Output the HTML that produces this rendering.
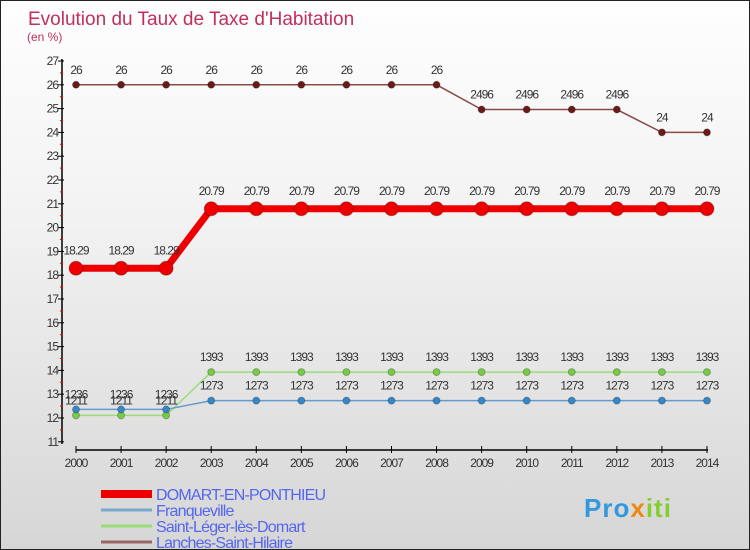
<!DOCTYPE html>
<html><head><meta charset="utf-8"><style>
body{margin:0}
#c{width:750px;height:550px;position:relative;overflow:hidden;box-sizing:border-box;border:1px solid #222;background:linear-gradient(#fefefe,#f2f2f2 40%,#d6d6d6);font-family:"Liberation Sans",sans-serif}
</style></head><body>
<div id="c">
<svg id="s" width="750" height="550" style="position:absolute;left:0;top:0"></svg>
</div>
<script>
const years=[2000,2001,2002,2003,2004,2005,2006,2007,2008,2009,2010,2011,2012,2013,2014];
const domart=[18.29,18.29,18.29,20.79,20.79,20.79,20.79,20.79,20.79,20.79,20.79,20.79,20.79,20.79,20.79];
const franq=[12.36,12.36,12.36,12.73,12.73,12.73,12.73,12.73,12.73,12.73,12.73,12.73,12.73,12.73,12.73];
const stleger=[12.11,12.11,12.11,13.93,13.93,13.93,13.93,13.93,13.93,13.93,13.93,13.93,13.93,13.93,13.93];
const lanches=[26,26,26,26,26,26,26,26,26,24.96,24.96,24.96,24.96,24,24];
const yTicks=[11,12,13,14,15,16,17,18,19,20,21,22,23,24,25,26,27];
const seriesNames=["DOMART-EN-PONTHIEU","Franqueville","Saint-Léger-lès-Domart","Lanches-Saint-Hilaire"];
const svg=document.getElementById('s');const NS='http://www.w3.org/2000/svg';
const X=i=>75+i*45.07, Y=v=>60+(27-v)*23.8;
function el(t,a,txt){const e=document.createElementNS(NS,t);for(const k in a)e.setAttribute(k,a[k]);if(txt!==undefined)e.textContent=txt;svg.appendChild(e);return e;}
let e;
e=el('text',{x:27,y:24,'font-size':19,fill:'#c0305a'},"Evolution du Taux de Taxe d'Habitation");

e=el('text',{x:26,y:40,'font-size':12,fill:'#c0305a'},"(en %)");

e=el('line',{x1:61,y1:58,x2:61,y2:443,stroke:'#000','stroke-width':1.5});

e=el('line',{x1:75,y1:449,x2:707,y2:449,stroke:'#000','stroke-width':1.5});

yTicks.forEach((v,i)=>{
 el('line',{x1:57,y1:Y(v),x2:63,y2:Y(v),stroke:'#000'});
 if(i<yTicks.length-1)el('line',{x1:59,y1:Y(v+0.5),x2:62,y2:Y(v+0.5),stroke:'#e00'});
 e=el('text',{x:57,y:Y(v)+4,'font-size':12,fill:'#333','text-anchor':'end','letter-spacing':'-1'},v);
 
});
years.forEach((y,i)=>{
 el('line',{x1:X(i),y1:445,x2:X(i),y2:452,stroke:'#000'});
 e=el('text',{x:X(i),y:466,'font-size':12,fill:'#333','text-anchor':'middle','letter-spacing':'-1'},y);
 
});
function series(data,name,color,dot,lw,r,dy,keepDot){
 const pts=data.map((v,i)=>X(i)+','+Y(v)).join(' ');
 e=el('polyline',{points:pts,fill:'none',stroke:color,'stroke-width':lw});
 
 data.forEach((v,i)=>{
  e=el('circle',{cx:X(i),cy:Y(v),r:r,fill:dot,stroke:'rgba(0,0,0,0.25)'});
  
  e=el('text',{x:X(i),y:Y(v)+dy,'font-size':12,fill:'#333','text-anchor':'middle','letter-spacing':'-1'},keepDot?String(v):String(v).replace('.',''));
  
 });
}
series(lanches,'lanches','#8b4a4a','#6b1a1a',1.5,3.5,-11,false);
series(domart,'domart','#ee0000','#ee0000',7,7,-14,true);
series(stleger,'stleger','#99dd77','#77cc44',1.5,3.5,-11,false);
series(franq,'franqueville','#6699cc','#3388cc',1.5,3.5,-11,false);
const lc=['#ee0000','#77aacc','#99dd77','#996666'],lw=[8,3,3,3];
seriesNames.forEach((n,i)=>{
 const y=493+i*16;
 e=el('line',{x1:100,y1:y,x2:151,y2:y,stroke:lc[i],'stroke-width':lw[i]});
 
 e=el('text',{x:155,y:y+6,'font-size':16,fill:'#5566ee','letter-spacing':'-0.8'},n);
 
});
e=el('text',{x:583,y:516,'font-size':26,'font-weight':'bold','letter-spacing':'1'});

[['Pro','#3399dd'],['x','#ee8811'],['iti','#88cc33']].forEach(([t,c])=>{const s=document.createElementNS(NS,'tspan');s.setAttribute('fill',c);s.textContent=t;e.appendChild(s);});
</script>
</body></html>
